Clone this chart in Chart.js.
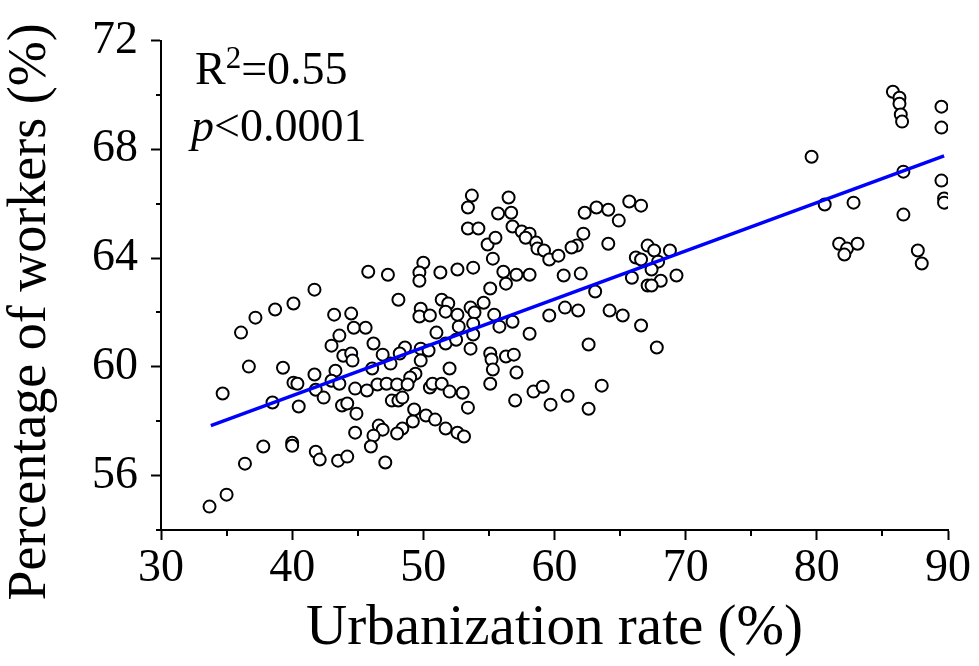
<!DOCTYPE html>
<html>
<head>
<meta charset="utf-8">
<script src="https://cdn.jsdelivr.net/npm/chart.js@4.4.1/dist/chart.umd.min.js"></script>
<style>
  html, body { margin: 0; padding: 0; background: #fff; }
  #wrap { width: 979px; height: 666px; }
</style>
</head>
<body>
<div id="wrap"><canvas id="scatterChart" width="979" height="666"></canvas></div>
<script>
// Urbanization rate (%) vs percentage of workers (%)
const urbanRate = [
  41.7, 40.1, 38.7, 37.2, 36.1, 43.2, 44.5, 44.7, 43.6, 43.0,
  43.9, 44.5, 44.6, 36.7, 39.3, 41.7, 43.3, 40.1, 40.4, 43.0,
  43.6, 41.8, 42.4, 44.8, 34.7, 38.5, 40.5, 43.8, 44.2, 44.9,
  44.8, 40.0, 40.0, 37.8, 41.8, 42.1, 43.5, 44.2, 36.4, 35.0,
  33.7,
  53.7, 53.4, 56.5, 55.7, 56.7, 53.4, 54.2, 56.8, 57.5, 58.1,
  57.8, 58.6, 58.7, 54.9, 55.5, 55.3, 50.0, 49.7, 49.7, 45.8,
  47.3, 51.3, 52.6, 53.8, 56.1, 56.3, 57.1, 58.1, 55.1, 48.1,
  51.4, 51.9, 49.8, 49.7, 50.5, 51.7, 52.6, 53.6, 53.9, 54.6,
  55.4, 55.8, 56.8, 45.6, 52.7, 53.8, 53.8, 51.0, 58.1, 46.2,
  48.6, 48.2, 49.8, 50.4, 49.8, 51.7, 52.5, 53.6, 46.9, 46.1,
  55.1, 55.2, 55.3, 56.3, 56.9, 57.1, 52.0, 49.4, 49.0, 47.5,
  45.7, 46.5, 47.2, 48.0, 48.8, 47.6, 48.1, 48.4, 50.5, 50.7,
  51.4, 52.0, 53.0, 55.1, 58.4, 57.0, 53.4, 49.3, 50.2, 50.9,
  51.7, 49.2, 48.4, 48.0, 46.6, 46.9, 46.2, 46.0, 52.6, 53.1,
  47.1,
  65.7, 66.6, 62.3, 63.2, 64.1, 64.9, 59.2, 59.6, 62.2, 61.7,
  61.3, 60.3, 64.1, 67.1, 67.6, 68.8, 66.2, 66.6, 67.9, 67.4,
  65.9, 68.1, 67.1, 67.4, 69.3, 60.7, 62.0, 63.1, 59.6, 60.8,
  61.8, 64.2, 65.2, 66.6, 62.6, 67.8, 59.1, 59.7, 61.0, 62.6,
  63.6,
  85.8, 86.3, 86.3, 86.4, 86.5, 89.5, 89.5, 79.6, 86.6, 89.5,
  89.7, 89.7, 80.6, 82.8, 86.6, 81.7, 82.3, 82.1, 83.1, 87.7,
  88.0
];
const workerPct = [
  62.84, 62.33, 62.11, 61.81, 61.26, 61.92, 61.96, 61.44, 61.15, 60.78,
  60.41, 60.49, 60.23, 60.01, 59.97, 59.72, 59.86, 59.42, 59.38, 59.49,
  59.38, 59.16, 58.87, 59.20, 59.02, 58.69, 58.54, 58.58, 58.65, 58.28,
  57.58, 57.21, 57.10, 57.07, 56.88, 56.59, 56.55, 56.70, 56.44, 55.30,
  54.86,
  66.30, 65.86, 66.23, 65.64, 65.67, 65.09, 65.09, 65.16, 64.98, 64.90,
  64.75, 64.57, 64.35, 64.50, 64.75, 63.98, 63.83, 63.47, 63.17, 63.50,
  63.39, 63.47, 63.58, 63.65, 63.50, 63.06, 63.39, 63.39, 62.88, 62.47,
  62.47, 62.33, 62.14, 61.85, 61.89, 62.03, 61.92, 62.18, 62.00, 62.36,
  61.92, 61.48, 61.66, 61.44, 61.48, 61.59, 61.19, 61.26, 61.22, 60.86,
  60.71, 60.49, 60.67, 60.60, 60.23, 60.86, 61.00, 60.67, 60.45, 59.94,
  60.49, 60.27, 59.90, 60.38, 60.45, 59.79, 59.94, 59.75, 59.61, 60.12,
  59.13, 59.35, 59.38, 59.35, 59.35, 58.76, 58.76, 58.87, 59.24, 59.38,
  59.38, 59.09, 59.05, 59.38, 59.09, 58.76, 58.50, 58.43, 58.21, 58.06,
  57.73, 57.99, 57.73, 57.55, 57.84, 57.69, 57.47, 57.07, 57.58, 57.44,
  56.48,
  66.08, 65.93, 65.67, 65.86, 65.78, 65.38, 64.28, 63.95, 64.90, 64.46,
  64.39, 64.09, 64.53, 64.46, 64.28, 64.28, 64.02, 63.95, 63.87, 63.58,
  63.28, 63.17, 62.99, 62.99, 63.36, 63.36, 63.43, 62.77, 61.89, 62.18,
  62.07, 62.07, 61.89, 61.52, 60.82, 60.71, 59.27, 58.61, 58.94, 58.46,
  59.31,
  70.12, 69.90, 69.68, 69.28, 69.02, 69.57, 68.80, 67.73, 67.18, 66.85,
  66.19, 66.04, 65.97, 66.04, 65.60, 64.53, 64.35, 64.13, 64.53, 64.28,
  63.80
];

// Fitted regression line (end points)
const fitX = [33.8, 89.7];
const fitY = [57.84, 67.76];

const xTicks = [30, 40, 50, 60, 70, 80, 90];
const xMinorTicks = [35, 45, 55, 65, 75, 85];
const yTicks = [56, 60, 64, 68, 72];
const yMinorTicks = [54, 58, 62, 66, 70];

const FONT = '"Liberation Serif", "Times New Roman", serif';

// ── minor ticks, y title and stats text ──
const extrasPlugin = {
  id: 'extras',
  afterDraw(chart) {
    const { ctx, scales: { x, y }, chartArea } = chart;
    ctx.save();
    ctx.strokeStyle = '#000';
    ctx.lineWidth = 2;
    ctx.beginPath();
    yMinorTicks.forEach(v => {
      const py = Math.round(y.getPixelForValue(v));
      ctx.moveTo(chartArea.left - 5, py);
      ctx.lineTo(chartArea.left, py);
    });
    xMinorTicks.forEach(v => {
      const px = Math.round(x.getPixelForValue(v));
      ctx.moveTo(px, chartArea.bottom);
      ctx.lineTo(px, chartArea.bottom + 6);
    });
    ctx.stroke();

    // y axis title
    ctx.fillStyle = '#000';
    ctx.font = `54px ${FONT}`;
    ctx.textAlign = 'center';
    ctx.textBaseline = 'alphabetic';
    ctx.save();
    ctx.translate(45, 312);
    ctx.rotate(-Math.PI / 2);
    ctx.fillText('Percentage of workers (%)', 0, 0);
    ctx.restore();

    // R² and p value
    ctx.textAlign = 'left';
    let tx = 195;
    ctx.font = `46px ${FONT}`;
    ctx.fillText('R', tx, 84);
    tx += ctx.measureText('R').width;
    ctx.font = `31px ${FONT}`;
    ctx.fillText('2', tx, 68);
    tx += ctx.measureText('2').width;
    ctx.font = `46px ${FONT}`;
    ctx.fillText('=0.55', tx, 84);

    tx = 191;
    ctx.font = `italic 46px ${FONT}`;
    ctx.fillText('p', tx, 141);
    tx += ctx.measureText('p').width;
    ctx.font = `46px ${FONT}`;
    ctx.fillText('<0.0001', tx, 141);
    ctx.restore();
  }
};

new Chart(document.getElementById('scatterChart'), {
  type: 'scatter',
  data: {
    datasets: [
      {
        type: 'line',
        label: 'Fit',
        data: fitX.map((v, i) => ({ x: v, y: fitY[i] })),
        borderColor: '#0000ff',
        borderWidth: 3.5,
        pointRadius: 0,
        fill: false,
        order: 0,
      },
      {
        label: 'Provinces',
        data: urbanRate.map((v, i) => ({ x: v, y: workerPct[i] })),
        pointRadius: 6,
        pointHoverRadius: 6,
        borderWidth: 2,
        borderColor: '#000',
        backgroundColor: '#fff',
        order: 1,
      },
    ],
  },
  options: {
    responsive: false,
    animation: false,
    devicePixelRatio: 1,
    layout: { padding: { top: 40, right: 31, left: 0, bottom: 0 } },
    plugins: {
      legend: { display: false },
      tooltip: { enabled: false },
    },
    scales: {
      x: {
        type: 'linear',
        min: 30,
        max: 90,
        afterFit: (scale) => { scale.height = 136; },
        afterBuildTicks: (scale) => { scale.ticks = xTicks.map(v => ({ value: v })); },
        grid: { display: true, drawOnChartArea: false, tickLength: 10, tickWidth: 2, tickColor: '#000' },
        border: { display: true, color: '#000', width: 2 },
        ticks: {
          color: '#000',
          padding: 1,
          maxRotation: 0,
          autoSkip: false,
          font: { family: FONT, size: 46 },
        },
        title: {
          display: true,
          text: 'Urbanization rate (%)',
          color: '#000',
          font: { family: FONT, size: 57, lineHeight: 1 },
          padding: { top: 0, bottom: 8 },
        },
      },
      y: {
        type: 'linear',
        min: 54,
        max: 72,
        afterFit: (scale) => { scale.width = 161; },
        afterBuildTicks: (scale) => { scale.ticks = yTicks.map(v => ({ value: v })); },
        grid: { display: true, drawOnChartArea: false, tickLength: 10, tickWidth: 2, tickColor: '#000' },
        border: { display: true, color: '#000', width: 2 },
        ticks: {
          color: '#000',
          padding: 13,
          autoSkip: false,
          font: { family: FONT, size: 46 },
        },
      },
    },
  },
  plugins: [extrasPlugin],
});
</script>
</body>
</html>
